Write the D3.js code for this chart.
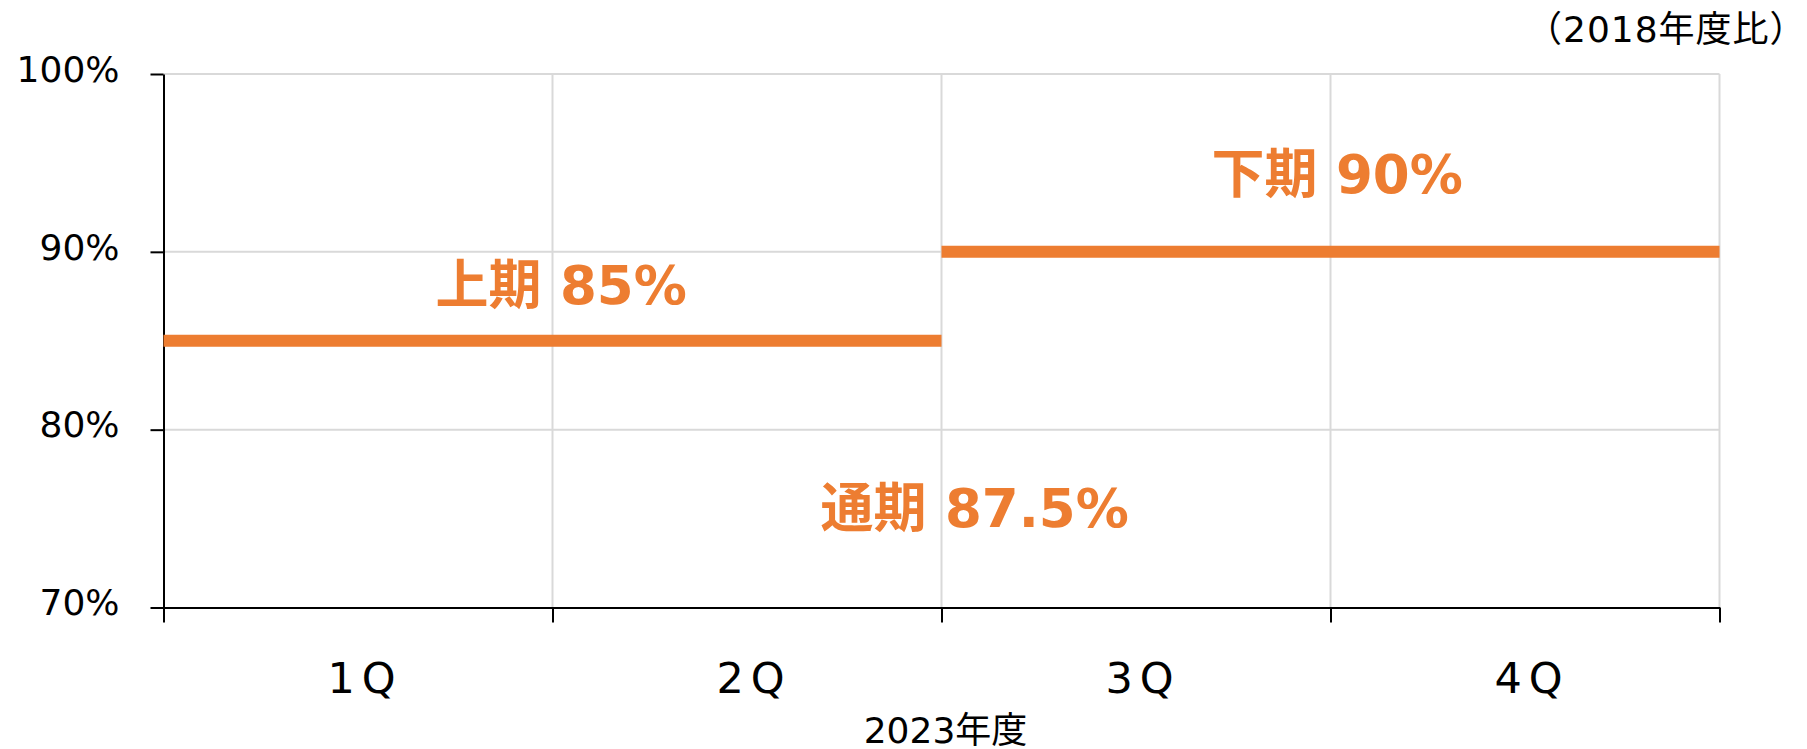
<!DOCTYPE html>
<html>
<head>
<meta charset="utf-8">
<script src="https://cdn.jsdelivr.net/npm/d3@7"></script>
<style>
  body { margin: 0; background: #fff; }
  text { font-family: "DejaVu Sans", "Noto Sans CJK JP", sans-serif; }
</style>
</head>
<body>
<div id="chart"></div>
<script>
// data
var quarters = ["1Q", "2Q", "3Q", "4Q"];
var halfNames = ["上期", "下期"];
var halfQuarters = [["1Q", "2Q"], ["3Q", "4Q"]];
var halfValues = [85, 90];
var annualName = "通期";
var annualValue = 87.5;
var yTicks = [70, 80, 90, 100];
var xTitle = "2023年度";
var unitNote = "（2018年度比）";

var svgWidth = 1807;
var svgHeight = 749;

var margin = {
  top: 74,
  right: 87.5,
  bottom: 141.5,
  left: 163.5
};

var width = svgWidth - margin.left - margin.right;
var height = svgHeight - margin.top - margin.bottom;

var orange = "#ED7D31";
var grid = "#d9d9d9";

var svg = d3.select("#chart")
  .append("svg")
  .attr("width", svgWidth)
  .attr("height", svgHeight);

var chartGroup = svg.append("g")
  .attr("transform", `translate(${margin.left}, ${margin.top})`);

var xBand = d3.scaleBand()
  .domain(quarters)
  .range([0, width])
  .padding(0);

// quarter boundaries 0..4
var xEdge = d3.scaleLinear()
  .domain([0, quarters.length])
  .range([0, width]);

var yLinearScale = d3.scaleLinear()
  .domain([70, 100])
  .range([height, 0]);

// gridlines
chartGroup.selectAll(".hgrid")
  .data(yTicks.slice(1))
  .enter()
  .append("line")
  .attr("x1", 0)
  .attr("x2", width)
  .attr("y1", d => yLinearScale(d))
  .attr("y2", d => yLinearScale(d))
  .attr("stroke", grid)
  .attr("stroke-width", 2);

chartGroup.selectAll(".vgrid")
  .data(d3.range(1, quarters.length + 1))
  .enter()
  .append("line")
  .attr("x1", d => xEdge(d))
  .attr("x2", d => xEdge(d))
  .attr("y1", 0)
  .attr("y2", height)
  .attr("stroke", grid)
  .attr("stroke-width", 2);

// axes
var leftAxis = d3.axisLeft(yLinearScale)
  .tickValues(yTicks)
  .tickFormat(d => d + "%")
  .tickSize(13)
  .tickSizeOuter(0)
  .tickPadding(31);

var bottomAxis = d3.axisBottom(xEdge)
  .tickValues(d3.range(0, quarters.length + 1))
  .tickFormat("")
  .tickSize(15)
  .tickSizeOuter(0);

var yG = chartGroup.append("g").call(leftAxis);
yG.selectAll("text")
  .attr("dy", "0.2em")
  .style("font-size", "36px")
  .style("fill", "#000");

var xG = chartGroup.append("g")
  .attr("transform", `translate(0, ${height})`)
  .call(bottomAxis);

[yG, xG].forEach(function (g) {
  g.select(".domain").attr("stroke", "#000").attr("stroke-width", 2);
  g.selectAll(".tick line").attr("stroke", "#000").attr("stroke-width", 2);
});

// quarter labels
chartGroup.selectAll(".qlabel")
  .data(quarters)
  .enter()
  .append("text")
  .attr("x", d => xBand(d) + xBand.bandwidth() / 2)
  .attr("y", height + 85)
  .attr("dx", 7)
  .attr("text-anchor", "middle")
  .style("font-size", "43px")
  .style("letter-spacing", "7px")
  .style("fill", "#000")
  .text(d => d);

chartGroup.append("text")
  .attr("x", width / 2 + 4)
  .attr("y", height + 135)
  .attr("text-anchor", "middle")
  .style("font-size", "36px")
  .style("fill", "#000")
  .text(xTitle);

svg.append("text")
  .attr("x", 1526)
  .attr("y", 42)
  .style("font-size", "36px")
  .style("letter-spacing", "1px")
  .style("fill", "#000")
  .text(unitNote);

// half-year plan lines
chartGroup.selectAll(".half")
  .data(halfValues)
  .enter()
  .append("line")
  .attr("x1", (d, i) => xBand(halfQuarters[i][0]))
  .attr("x2", (d, i) => xBand(halfQuarters[i][1]) + xBand.bandwidth())
  .attr("y1", d => yLinearScale(d))
  .attr("y2", d => yLinearScale(d))
  .attr("stroke", orange)
  .attr("stroke-width", 12);

// labels
var labelOffsets = [{ dx: -117, dy: -37 }, { dx: -119, dy: -59 }];

chartGroup.selectAll(".hlabel")
  .data(halfValues)
  .enter()
  .append("text")
  .attr("x", (d, i) => xBand(halfQuarters[i][1]) + labelOffsets[i].dx)
  .attr("y", (d, i) => yLinearScale(d) + labelOffsets[i].dy)
  .style("font-size", "53px")
  .style("font-weight", "bold")
  .style("fill", orange)
  .text((d, i) => halfNames[i] + " " + d + "%");

chartGroup.append("text")
  .attr("x", xEdge(2) - 121)
  .attr("y", yLinearScale(80) + 97)
  .style("font-size", "53px")
  .style("font-weight", "bold")
  .style("fill", orange)
  .text(annualName + " " + annualValue + "%");
</script>
</body>
</html>
